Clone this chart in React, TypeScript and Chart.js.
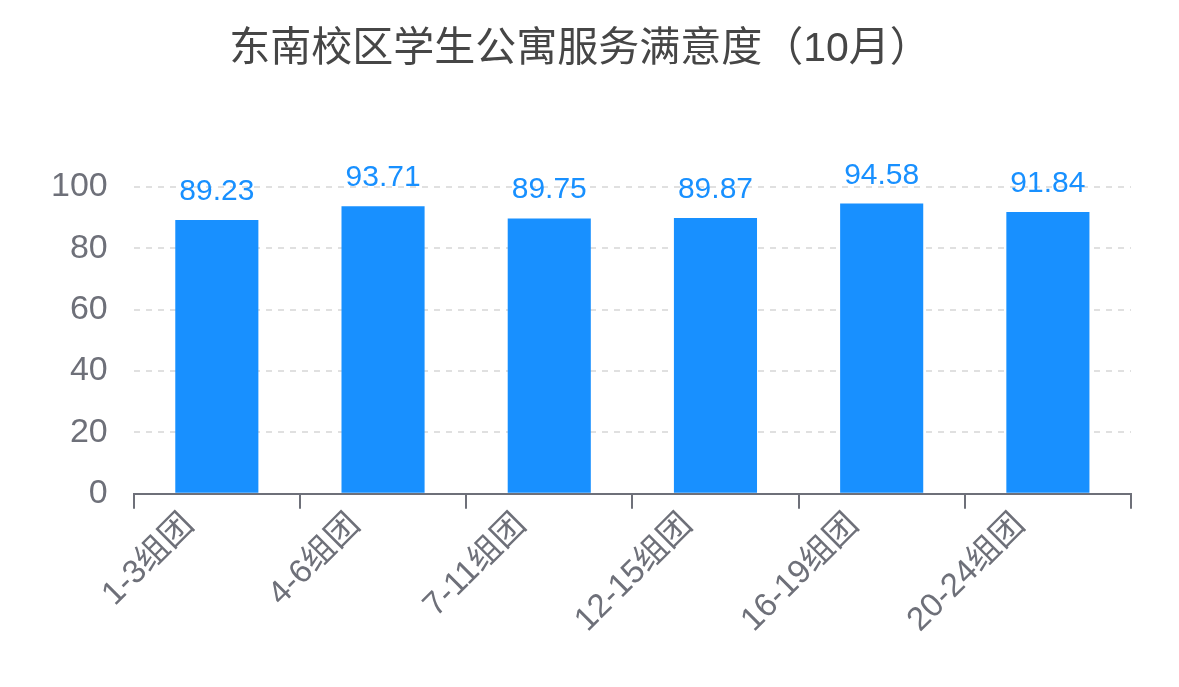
import { useEffect, useRef } from "react";
import { Chart, registerables } from "chart.js";

Chart.register(...registerables);

// 数据
const categories: string[] = ["1-3组团", "4-6组团", "7-11组团", "12-15组团", "16-19组团", "20-24组团"];
const scores: number[] = [89.23, 93.71, 89.75, 89.87, 94.58, 91.84];
const yTicks: number[] = [0, 20, 40, 60, 80, 100];

const titleText = "东南校区学生公寓服务满意度（10月）";
const FONT = "'Liberation Sans', 'Noto Sans CJK SC', sans-serif";
const BLUE = "#1890FF";
const AXIS_GRAY = "#6E7079";

// 柱顶数值标签 + 标题
const labelsPlugin = {
    id: "barLabels",
    afterDatasetsDraw(chart: any) {
        const ctx = chart.ctx;
        const meta = chart.getDatasetMeta(0);
        ctx.save();
        ctx.font = `30px ${FONT}`;
        ctx.fillStyle = BLUE;
        ctx.textAlign = "center";
        ctx.textBaseline = "alphabetic";
        meta.data.forEach((bar: any, i: number) => {
            ctx.fillText(scores[i].toFixed(2), bar.x, bar.y - 20);
        });
        // 标题
        ctx.font = `41px ${FONT}`;
        ctx.fillStyle = "#464646";
        ctx.textBaseline = "middle";
        ctx.fillText(titleText, 580, 50);
        ctx.restore();
    },
};

export default function App() {
    const canvasRef = useRef<HTMLCanvasElement | null>(null);

    useEffect(() => {
        document.body.style.margin = "0";
        const ctx = canvasRef.current?.getContext("2d");
        if (!ctx) return;

        const chart = new Chart(ctx, {
            type: "bar",
            data: {
                labels: categories,
                datasets: [
                    {
                        data: scores,
                        backgroundColor: BLUE,
                        barPercentage: 0.5,
                        categoryPercentage: 1,
                    },
                ],
            },
            options: {
                animation: false,
                responsive: false,
                devicePixelRatio: 1,
                layout: {
                    padding: { top: 187, left: 25, right: 48, bottom: 50 },
                },
                plugins: {
                    legend: { display: false },
                    tooltip: { enabled: false },
                },
                scales: {
                    x: {
                        grid: {
                            offset: true,
                            drawOnChartArea: false,
                            color: AXIS_GRAY,
                            lineWidth: 2,
                            tickLength: 15,
                        },
                        border: { display: true, color: AXIS_GRAY, width: 2 },
                        ticks: {
                            autoSkip: false,
                            maxRotation: 45,
                            minRotation: 45,
                            color: AXIS_GRAY,
                            font: { size: 33, family: FONT },
                            padding: -3,
                            labelOffset: -28,
                        },
                    },
                    y: {
                        min: 0,
                        max: 100,
                        afterBuildTicks: (axis: any) => {
                            axis.ticks = yTicks.map((v) => ({ value: v }));
                        },
                        grid: {
                            color: (c: any) => (c.tick && c.tick.value === 0 ? "rgba(0,0,0,0)" : "#E0E0E0"),
                            lineWidth: 2,
                            drawTicks: false,
                        },
                        border: { display: false, dash: [6, 6] },
                        ticks: {
                            color: AXIS_GRAY,
                            font: { size: 34, family: FONT },
                            padding: 26,
                        },
                    },
                },
            },
            plugins: [labelsPlugin],
        });

        return () => {
            chart.destroy();
        };
    }, []);

    return (
        <div style={{ width: 1179, height: 687, background: "#fff" }}>
            <canvas ref={canvasRef} width={1179} height={687} />
        </div>
    );
}
